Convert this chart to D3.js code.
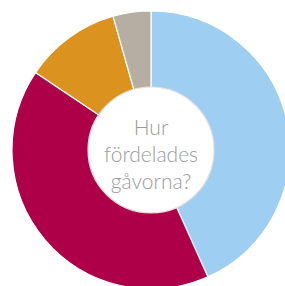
<!DOCTYPE html>
<html>
<head>
<meta charset="utf-8">
<script src="https://cdn.jsdelivr.net/npm/d3@7"></script>
<style>
html,body{margin:0;padding:0;background:#fff;overflow:hidden;}
svg{display:block;}
</style>
</head>
<body>
<svg id="chart" width="285" height="286"></svg>
<script>
const categories = ["A", "B", "C", "D"];
const values = [43.3, 41.1, 11.2, 4.4];
const colors = ["#9ecff2", "#ad0049", "#dc921e", "#b7aea3"];
const titleLines = ["Hur", "fördelades", "gåvorna?"];

const svg = d3.select("#chart");
const cx = 151, cy = 150, outerR = 139, innerR = 63;
const g = svg.append("g").attr("transform", `translate(${cx},${cy})`);

const pie = d3.pie().sort(null).value(d => d.v);
const arc = d3.arc().innerRadius(innerR - 2).outerRadius(outerR);
const data = categories.map((c, i) => ({c, v: values[i]}));
const color = d3.scaleOrdinal().domain(categories).range(colors);

g.selectAll("path").data(pie(data)).join("path")
  .attr("d", arc)
  .attr("fill", d => color(d.data.c))
  .attr("stroke", "#fff")
  .attr("stroke-width", 1.2);

g.append("circle").attr("r", innerR)
  .attr("fill", "#fff")
  .attr("stroke", "#eadfdb")
  .attr("stroke-width", 1.2);

g.append("text")
  .attr("text-anchor", "middle")
  .attr("font-family", "Lato, 'Open Sans', sans-serif")
  .attr("font-weight", 300)
  .attr("font-size", 21)
  .attr("fill", "#9a9a9a")
  .selectAll("tspan").data(titleLines).join("tspan")
  .attr("x", 0)
  .attr("y", (d, i) => -15 + i * 27)
  .text(d => d);
</script>
</body>
</html>
